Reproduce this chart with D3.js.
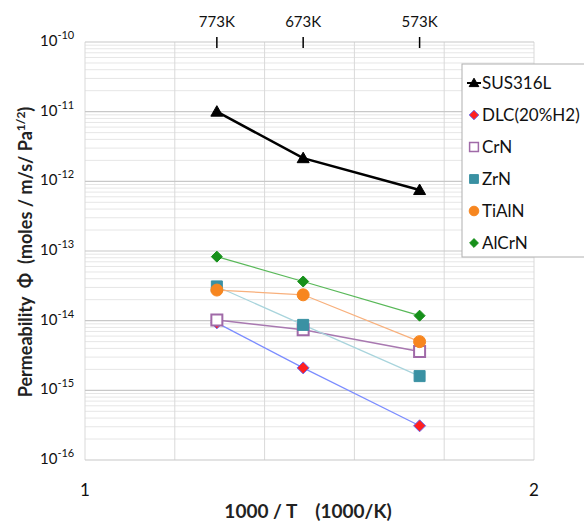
<!DOCTYPE html>
<html><head><meta charset="utf-8">
<script src="https://cdn.jsdelivr.net/npm/d3@7"></script>
<style>body{margin:0;background:#fff;} svg{display:block;font-family:Lato,"Open Sans",sans-serif;}</style>
</head><body>
<svg id="c" width="584" height="522"></svg>
<script>
const temps = [773, 673, 573];
const topLabels = ["773K", "673K", "573K"];
const seriesNames = ["SUS316L", "DLC(20%H2)", "CrN", "ZrN", "TiAlN", "AlCrN"];
const sus316L = [1.0e-11, 2.15e-12, 7.5e-13];
const dlc = [9.3e-15, 2.1e-15, 3.1e-16];
const crN = [1.02e-14, 7.4e-15, 3.6e-15];
const zrN = [3.1e-14, 8.7e-15, 1.6e-15];
const tiAlN = [2.75e-14, 2.35e-14, 5.0e-15];
const alCrN = [8.3e-14, 3.65e-14, 1.18e-14];
const yTickExps = [-10, -11, -12, -13, -14, -15, -16];
const xTickLabels = [1, 2];

const styles = [
  {line:"#000000", lw:2.5, marker:"triangle", fill:"#000", stroke:"#000", r:6},
  {line:"#7b8cff", lw:1.2, marker:"diamond", fill:"#ff2020", stroke:"#6a6af0", r:6},
  {line:"#a878b0", lw:1.5, marker:"square", fill:"#fff", stroke:"#a06aa8", r:5.5},
  {line:"#a8d4dc", lw:1.2, marker:"square", fill:"#3a91a3", stroke:"#3a91a3", r:5.5},
  {line:"#f8b07c", lw:1.2, marker:"circle", fill:"#f7861f", stroke:"#f7861f", r:6},
  {line:"#58b858", lw:1.2, marker:"diamond", fill:"#16901a", stroke:"#16901a", r:5.5}
];
const data = [sus316L, dlc, crN, zrN, tiAlN, alCrN];

const svg = d3.select("#c");
const x = d3.scaleLinear().domain([1, 2]).range([85, 534]);
const y = d3.scaleLog().domain([1e-16, 1e-10]).range([460, 42]);

const minor = [];
for (let e = -16; e < -10; e++) for (let m = 2; m <= 9; m++) minor.push(m * Math.pow(10, e));
svg.append("g").selectAll("line").data(minor).join("line")
  .attr("x1", x(1)).attr("x2", x(2))
  .attr("y1", d => y(d)).attr("y2", d => y(d))
  .attr("stroke", "#e6e6e6").attr("stroke-width", 1);
svg.append("g").selectAll("line").data(d3.range(1, 2.01, 0.2)).join("line")
  .attr("x1", d => x(d)).attr("x2", d => x(d))
  .attr("y1", y(1e-10)).attr("y2", y(1e-16))
  .attr("stroke", "#d9d9d9").attr("stroke-width", 1);
svg.append("g").selectAll("line").data(yTickExps).join("line")
  .attr("x1", x(1)).attr("x2", x(2))
  .attr("y1", d => y(Math.pow(10, d))).attr("y2", d => y(Math.pow(10, d)))
  .attr("stroke", "#c8c8c8").attr("stroke-width", 1.2);

const yl = svg.append("g").selectAll("text").data(yTickExps).join("text")
  .attr("x", 40).attr("y", d => y(Math.pow(10, d)) + 4)
  .attr("font-size", 15).attr("fill", "#111");
yl.append("tspan").text("10");
yl.append("tspan").attr("dy", -7).attr("font-size", 11).text(d => String(d));

svg.append("g").selectAll("text").data(xTickLabels).join("text")
  .attr("x", d => x(d)).attr("y", 496).attr("text-anchor", "middle")
  .attr("font-size", 17).attr("fill", "#111").text(d => d);

const tg = svg.append("g");
tg.selectAll("line").data(temps).join("line")
  .attr("x1", d => x(1000 / d)).attr("x2", d => x(1000 / d))
  .attr("y1", 37).attr("y2", 48).attr("stroke", "#000").attr("stroke-width", 1.5);
tg.selectAll("text").data(temps).join("text")
  .attr("x", d => x(1000 / d)).attr("y", 27).attr("text-anchor", "middle")
  .attr("font-size", 15).attr("fill", "#111").text((d, i) => topLabels[i]);

svg.append("text").attr("x", 308).attr("y", 518).attr("text-anchor", "middle")
  .attr("font-size", 19).attr("font-weight", "bold").attr("fill", "#222")
  .attr("xml:space", "preserve").text("1000 / T    (1000/K)");
const yt = svg.append("text").attr("transform", "translate(32,252) rotate(-90)")
  .attr("text-anchor", "middle").attr("font-size", 18).attr("font-weight", "bold").attr("fill", "#222")
  .attr("xml:space", "preserve");
yt.append("tspan").text("Permeability  Φ  (moles / m/s/ Pa");
yt.append("tspan").attr("dy", -7).attr("font-size", 12).text("1/2");
yt.append("tspan").attr("dy", 7).text(")");

function sym(t, r) {
  if (t === "triangle") return `M0,${-r}L${r},${r*0.75}L${-r},${r*0.75}Z`;
  if (t === "diamond") return `M0,${-r}L${r},0L0,${r}L${-r},0Z`;
  if (t === "square") return `M${-r},${-r}H${r}V${r}H${-r}Z`;
  return d3.arc()({innerRadius:0, outerRadius:r, startAngle:0, endAngle:2*Math.PI});
}

data.forEach((vals, i) => {
  const st = styles[i];
  const pts = vals.map((v, j) => [x(1000 / temps[j]), y(v)]);
  svg.append("path").attr("d", d3.line()(pts)).attr("fill", "none")
    .attr("stroke", st.line).attr("stroke-width", st.lw);
});
data.forEach((vals, i) => {
  const st = styles[i];
  svg.append("g").selectAll("path").data(vals).join("path")
    .attr("transform", (v, j) => `translate(${x(1000 / temps[j])},${y(v)})`)
    .attr("d", sym(st.marker, st.r))
    .attr("fill", st.fill).attr("stroke", st.stroke).attr("stroke-width", st.fill === "#fff" ? 2 : 1);
});

const lg = svg.append("g");
lg.append("rect").attr("x", 462).attr("y", 64).attr("width", 130).attr("height", 193)
  .attr("fill", "#fff").attr("stroke", "#b0b0b0").attr("stroke-width", 1);
seriesNames.forEach((n, i) => {
  const yy = 83 + i * 32;
  const st = styles[i];
  if (i === 0) lg.append("line").attr("x1", 467).attr("x2", 481).attr("y1", yy).attr("y2", yy)
    .attr("stroke", "#000").attr("stroke-width", 2);
  lg.append("path").attr("transform", `translate(${474},${yy})`)
    .attr("d", sym(st.marker, st.r * 0.8))
    .attr("fill", st.fill).attr("stroke", st.stroke).attr("stroke-width", st.fill === "#fff" ? 1.5 : 1);
  lg.append("text").attr("x", 482).attr("y", yy + 6).attr("font-size", 17).attr("fill", "#111").text(n);
});
</script>
</body></html>
